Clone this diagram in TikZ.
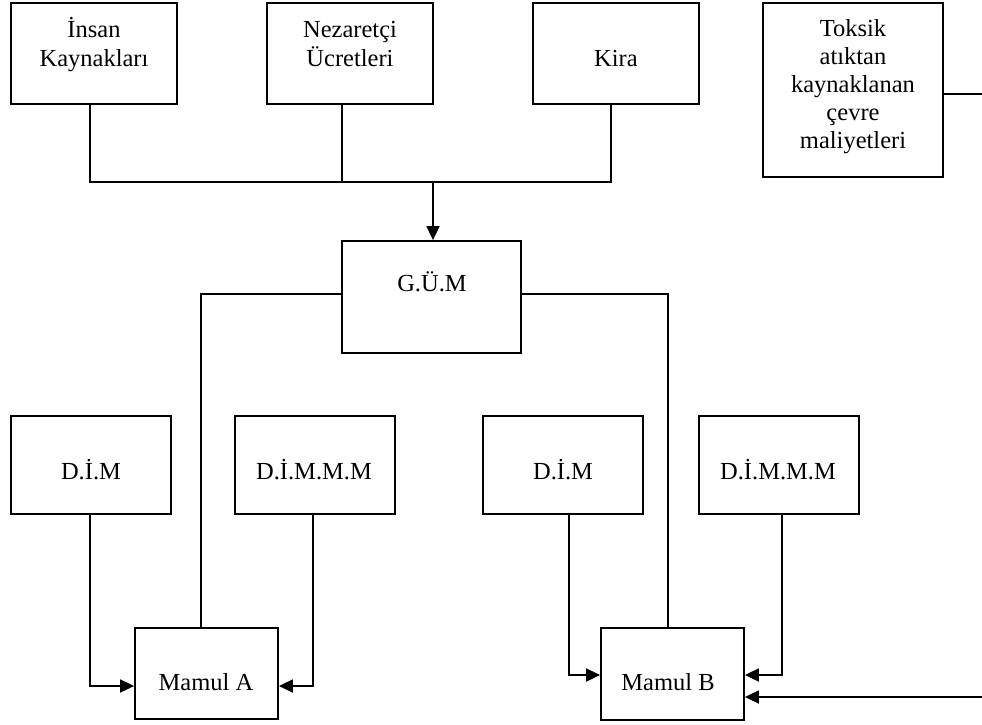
\documentclass[tikz,border=0pt]{standalone}
\usepackage{fontspec}
\setmainfont{Liberation Serif}
\usetikzlibrary{arrows.meta}
\begin{document}
\begin{tikzpicture}[x=1pt,y=-1pt,
  box/.style={draw, line width=1.8pt, inner sep=0pt},
  txt/.style={font=\fontsize{24.5}{29}\selectfont, inner sep=0pt, anchor=base},
  wire/.style={line width=1.8pt},
  arr/.style={line width=1.8pt, -{Triangle[length=14pt,width=13pt]}}]
\useasboundingbox (0,0) rectangle (982,724);

% cost sources
\node[box, minimum width=166pt, minimum height=101pt] (ik) at (94,53.5) {};
\node[txt] (ik1) at (94,37) {İnsan};
\node[txt] (ik2) at (94,66) {Kaynakları};

\node[box, minimum width=166pt, minimum height=101pt] (nz) at (350,53.5) {};
\node[txt] (nz1) at (350,37) {Nezaretçi};
\node[txt] (nz2) at (350,66) {Ücretleri};

\node[box, minimum width=166pt, minimum height=101pt] (kira) at (616,53.5) {};
\node[txt] (kira1) at (616,66) {Kira};

\node[box, minimum width=180pt, minimum height=174pt] (tox) at (853,90) {};
\node[txt] (tox1) at (853,36) {Toksik};
\node[txt] (tox2) at (853,64) {atıktan};
\node[txt] (tox3) at (853,92) {kaynaklanan};
\node[txt] (tox4) at (853,120) {çevre};
\node[txt] (tox5) at (853,148) {maliyetleri};

% overhead pool
\node[box, minimum width=179pt, minimum height=112pt] (gum) at (431.5,297) {};
\node[txt] (gum1) at (432,291) {G.Ü.M};

% direct costs, product A
\node[box, minimum width=160pt, minimum height=98pt] (dimA) at (91,465) {};
\node[txt] (dimA1) at (91,479) {D.İ.M};
\node[box, minimum width=160pt, minimum height=98pt] (dimmA) at (315,465) {};
\node[txt] (dimmA1) at (314,479) {D.İ.M.M.M};
\node[box, minimum width=143pt, minimum height=91pt] (mamA) at (206.5,673.5) {};
\node[txt] (mamA1) at (206,690) {Mamul A};

% direct costs, product B
\node[box, minimum width=160pt, minimum height=98pt] (dimB) at (563,465) {};
\node[txt] (dimB1) at (563,479) {D.İ.M};
\node[box, minimum width=160pt, minimum height=98pt] (dimmB) at (779,465) {};
\node[txt] (dimmB1) at (778,479) {D.İ.M.M.M};
\node[box, minimum width=143pt, minimum height=92pt] (mamB) at (672.5,674) {};
\node[txt] (mamB1) at (668,690) {Mamul B};

% collecting bus into the overhead pool
\coordinate (busL) at (90,182);
\coordinate (busM) at (342,182);
\coordinate (busR) at (611,182);
\coordinate (busA) at (433,182);
\draw[wire] (ik.south -| busL) -- (busL) -- (busR) -- (kira.south -| busR);
\draw[wire] (nz.south -| busM) -- (busM);
\draw[arr] (busA) -- (gum.north -| busA);

% overhead to products
\coordinate (gL) at (201,294);
\coordinate (gR) at (668,294);
\draw[wire] (gum.west |- gL) -- (gL) -- (mamA.north -| gL);
\draw[wire] (gum.east |- gR) -- (gR) -- (mamB.north -| gR);

% direct costs to products
\coordinate (aL) at (90,686);
\coordinate (aR) at (313,686);
\draw[arr] (dimA.south -| aL) -- (aL) -- (mamA.west |- aL);
\draw[arr] (dimmA.south -| aR) -- (aR) -- (mamA.east |- aR);
\coordinate (bL) at (569,675);
\coordinate (bR) at (782,675);
\draw[arr] (dimB.south -| bL) -- (bL) -- (mamB.west |- bL);
\draw[arr] (dimmB.south -| bR) -- (bR) -- (mamB.east |- bR);

% environmental cost leaving to the right and returning to product B
\coordinate (tOut) at (982,94);
\coordinate (tIn) at (982,697);
\draw[wire] (tox.east |- tOut) -- (tOut);
\draw[arr] (tIn) -- (mamB.east |- tIn);
\end{tikzpicture}
\end{document}
